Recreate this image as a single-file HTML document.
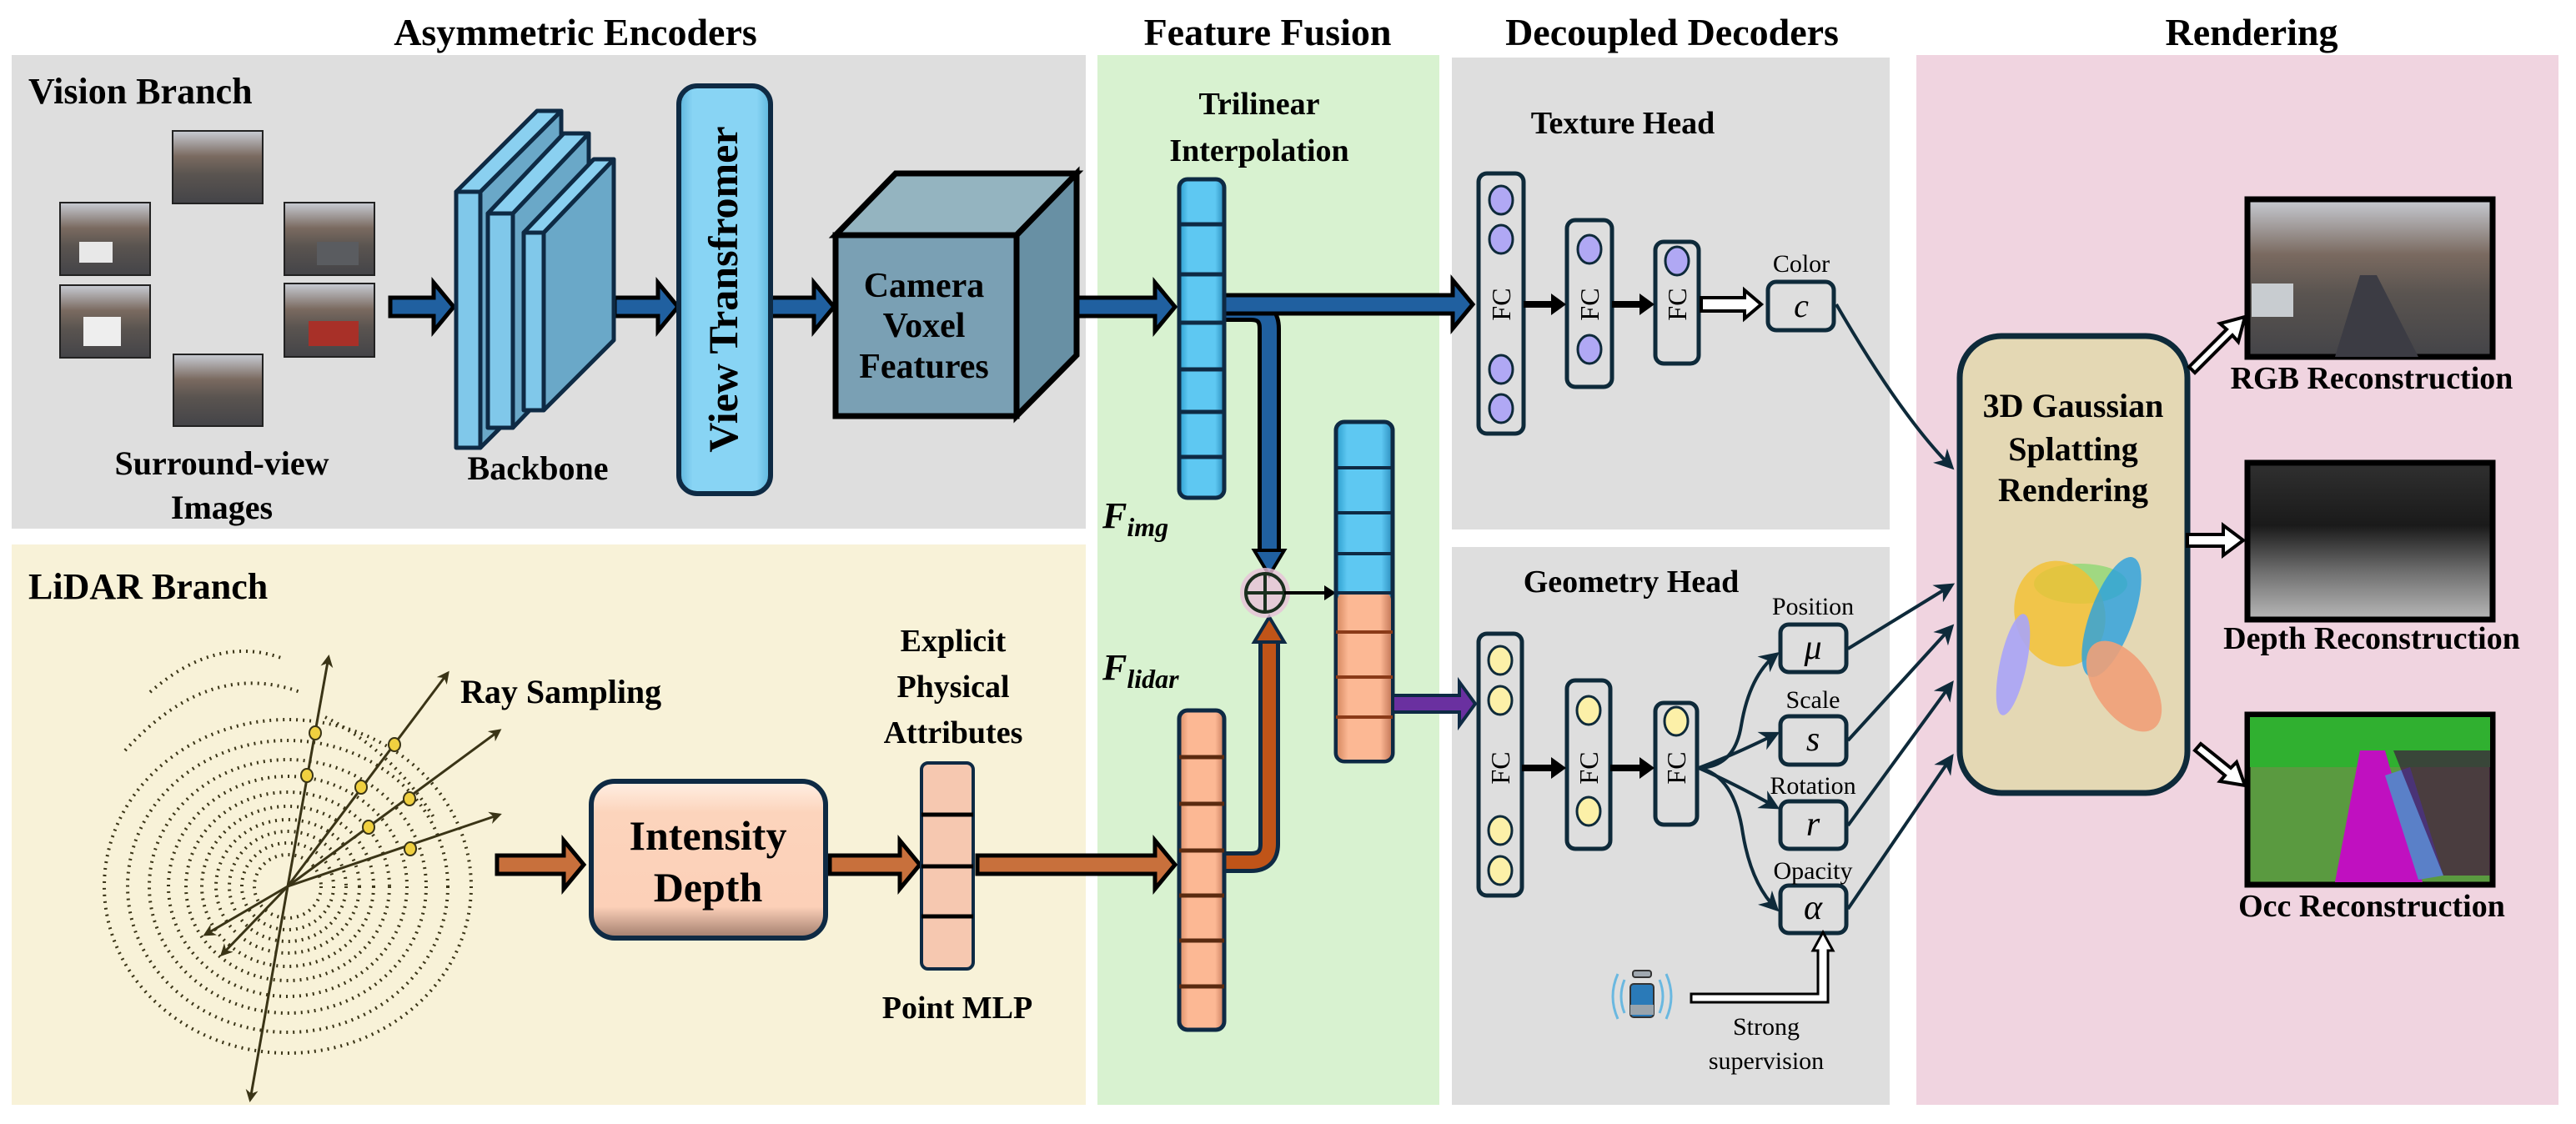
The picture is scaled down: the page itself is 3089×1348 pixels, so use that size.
<!DOCTYPE html>
<html><head><meta charset="utf-8"><style>
html,body{margin:0;padding:0;background:#fff}
svg{display:block;font-family:"Liberation Serif","DejaVu Serif","Times New Roman",serif}
svg text{font-family:"Liberation Serif","DejaVu Serif","Times New Roman",serif}
.t{font-weight:bold;font-size:46px;text-anchor:middle}
.b{font-weight:bold}
</style></head><body>
<svg width="3089" height="1348" viewBox="0 0 3089 1348" xmlns="http://www.w3.org/2000/svg" font-family="Liberation Serif, DejaVu Serif, serif">
<defs>
<linearGradient id="gb" x1="0" x2="1"><stop offset="0" stop-color="#2a9ccc"/><stop offset="0.2" stop-color="#5ec8f2"/><stop offset="0.8" stop-color="#5ec8f2"/><stop offset="1" stop-color="#2a8cbc"/></linearGradient>
<linearGradient id="go" x1="0" x2="1"><stop offset="0" stop-color="#d88c64"/><stop offset="0.2" stop-color="#fcb894"/><stop offset="0.8" stop-color="#fcb894"/><stop offset="1" stop-color="#c87c5c"/></linearGradient>
<linearGradient id="gvt" x1="0" x2="1"><stop offset="0" stop-color="#5cb4dc"/><stop offset="0.15" stop-color="#88d4f4"/><stop offset="0.85" stop-color="#88d4f4"/><stop offset="1" stop-color="#5cb4dc"/></linearGradient>
<linearGradient id="gid" x1="0" y1="0" x2="0" y2="1"><stop offset="0" stop-color="#fff0e4"/><stop offset="0.2" stop-color="#fcd4bc"/><stop offset="0.8" stop-color="#fcd0b8"/><stop offset="1" stop-color="#a07c6c"/></linearGradient>
<linearGradient id="street" x1="0" y1="0" x2="0" y2="1"><stop offset="0" stop-color="#c8ccd4"/><stop offset="0.35" stop-color="#7a6a60"/><stop offset="0.6" stop-color="#5a5450"/><stop offset="1" stop-color="#444448"/></linearGradient>
<linearGradient id="depth" x1="0" y1="0" x2="0" y2="1"><stop offset="0" stop-color="#303030"/><stop offset="0.4" stop-color="#1a1a1a"/><stop offset="0.7" stop-color="#707070"/><stop offset="1" stop-color="#b8b8b8"/></linearGradient>
<marker id="ah" viewBox="0 0 10 10" refX="8" refY="5" markerWidth="6" markerHeight="6" orient="auto"><path d="M0,0 L10,5 L0,10 L3,5z" fill="#0e2a3a"/></marker>
<marker id="ahs" viewBox="0 0 10 10" refX="8" refY="5" markerWidth="5" markerHeight="5" orient="auto"><path d="M0,0 L10,5 L0,10 L3,5z" fill="#3a3416"/></marker>
</defs>

<rect x="14" y="66" width="1288" height="568" fill="#dedede"/>
<rect x="14" y="653" width="1288" height="672" fill="#f8f2d8"/>
<rect x="1316" y="66" width="410" height="1259" fill="#d8f2d0"/>
<rect x="1741" y="69" width="525" height="566" fill="#dedede"/>
<rect x="1741" y="656" width="525" height="669" fill="#dedede"/>
<rect x="2298" y="66" width="770" height="1259" fill="#f0d4e0"/>

<text class="t" x="690" y="54">Asymmetric Encoders</text>
<text class="t" x="1520" y="54">Feature Fusion</text>
<text class="t" x="2005" y="54">Decoupled Decoders</text>
<text class="t" x="2700" y="54">Rendering</text>
<text class="b" x="34" y="124" font-size="44">Vision Branch</text>
<text class="b" x="34" y="718" font-size="44">LiDAR Branch</text>

<g stroke="#222" stroke-width="2">
<rect x="207" y="157" width="108" height="87" fill="url(#street)"/>
<rect x="72" y="243" width="108" height="87" fill="url(#street)"/>
<rect x="341" y="243" width="108" height="87" fill="url(#street)"/>
<rect x="72" y="342" width="108" height="87" fill="url(#street)"/>
<rect x="341" y="340" width="108" height="88" fill="url(#street)"/>
<rect x="208" y="425" width="107" height="86" fill="url(#street)"/>
</g>
<rect x="95" y="290" width="40" height="25" fill="#e8e8e8"/>
<rect x="380" y="290" width="50" height="28" fill="#5a5c60"/>
<rect x="100" y="380" width="45" height="35" fill="#eee"/>
<rect x="370" y="385" width="60" height="30" fill="#a83028"/>
<text class="b" x="266" y="569" font-size="40" text-anchor="middle">Surround-view</text>
<text class="b" x="266" y="622" font-size="40" text-anchor="middle">Images</text>

<g fill="#2060a0" stroke="#000" stroke-width="5" stroke-linejoin="miter">
<polygon points="468,357 520,357 520,339 544,368 520,397 520,379 468,379"/>
<polygon points="737,357 789,357 789,339 813,368 789,397 789,379 737,379"/>
<polygon points="924,357 976,357 976,339 1000,368 976,397 976,379 924,379"/>
<polygon points="1291,357 1385,357 1385,339 1409,368 1385,397 1385,379 1291,379"/>
</g>

<g stroke="#0e2a44" stroke-width="5" stroke-linejoin="round">
<polygon points="576,230 673,133 673,440 576,537" fill="#6aa8c8"/>
<polygon points="547,230 644,133 673,133 576,230" fill="#8ad0f0"/>
<rect x="547" y="230" width="29" height="307" fill="#80c8ea"/>
<polygon points="615,256 706,160 706,418 615,513" fill="#6aa8c8"/>
<polygon points="585,256 676,160 706,160 615,256" fill="#8ad0f0"/>
<rect x="585" y="256" width="30" height="257" fill="#80c8ea"/>
<polygon points="652,279 736,191 736,408 652,492" fill="#6aa8c8"/>
<polygon points="628,279 712,191 736,191 652,279" fill="#8ad0f0"/>
<rect x="628" y="279" width="24" height="213" fill="#80c8ea"/>
</g>
<text class="b" x="645" y="575" font-size="40" text-anchor="middle">Backbone</text>

<rect x="814" y="103" width="110" height="489" rx="22" fill="url(#gvt)" stroke="#0e2a44" stroke-width="6"/>
<text class="b" transform="translate(884,347) rotate(-90)" font-size="50" text-anchor="middle">View Transfromer</text>

<g stroke="#000" stroke-width="7" stroke-linejoin="miter">
<polygon points="1002,282 1074,208 1291,208 1219,282" fill="#94b4c0"/>
<polygon points="1219,282 1291,208 1291,426 1219,499" fill="#6890a4"/>
<rect x="1002" y="282" width="217" height="217" fill="#7aa0b4"/>
</g>
<text class="b" x="1108" y="356" font-size="42" text-anchor="middle">Camera</text>
<text class="b" x="1108" y="404" font-size="42" text-anchor="middle">Voxel</text>
<text class="b" x="1108" y="453" font-size="42" text-anchor="middle">Features</text>

<text class="b" x="1510" y="137" font-size="38" text-anchor="middle">Trilinear</text>
<text class="b" x="1510" y="193" font-size="38" text-anchor="middle">Interpolation</text>

<path d="M1468,372 L1500,372 Q1522,372 1522,394 L1522,668" fill="none" stroke="#000" stroke-width="28"/>
<path d="M1468,372 L1500,372 Q1522,372 1522,394 L1522,668" fill="none" stroke="#2060a0" stroke-width="18"/>
<polygon points="1504,660 1540,660 1522,690" fill="#2060a0" stroke="#000" stroke-width="4"/>
<polygon points="1468,354 1742,354 1742,336 1766,365 1742,394 1742,376 1468,376" fill="#2060a0" stroke="#000" stroke-width="5"/>

<rect x="1414" y="215" width="54" height="382" rx="10" fill="url(#gb)" stroke="#0e2a44" stroke-width="5"/>
<g stroke="#0e2a44" stroke-width="5"><line x1="1414" y1="269" x2="1468" y2="269"/><line x1="1414" y1="329" x2="1468" y2="329"/><line x1="1414" y1="387" x2="1468" y2="387"/><line x1="1414" y1="443" x2="1468" y2="443"/><line x1="1414" y1="494" x2="1468" y2="494"/><line x1="1414" y1="548" x2="1468" y2="548"/></g>
<text x="1322" y="633" font-size="44" font-weight="bold" font-style="italic">F<tspan font-size="32" dy="10">img</tspan></text>
<text x="1322" y="815" font-size="44" font-weight="bold" font-style="italic">F<tspan font-size="32" dy="10">lidar</tspan></text>

<path d="M1468,1034 L1500,1034 Q1522,1034 1522,1012 L1522,766" fill="none" stroke="#0e2a44" stroke-width="26"/>
<path d="M1468,1034 L1500,1034 Q1522,1034 1522,1012 L1522,766" fill="none" stroke="#c05418" stroke-width="16"/>
<polygon points="1504,770 1540,770 1522,740" fill="#c05418" stroke="#0e2a44" stroke-width="4"/>

<circle cx="1517" cy="711" r="30" fill="#e8c0d8" opacity="0.8"/>
<circle cx="1517" cy="711" r="23" fill="none" stroke="#1a2e1e" stroke-width="4"/>
<line x1="1494" y1="711" x2="1540" y2="711" stroke="#1a2e1e" stroke-width="4"/>
<line x1="1517" y1="688" x2="1517" y2="734" stroke="#1a2e1e" stroke-width="4"/>
<line x1="1540" y1="711" x2="1596" y2="711" stroke="#000" stroke-width="4"/>
<polygon points="1588,702 1602,711 1588,720" fill="#000"/>

<rect x="1602" y="506" width="68" height="407" rx="10" fill="url(#gb)" stroke="#0e2a44" stroke-width="5"/>
<rect x="1604" y="711" width="64" height="200" rx="8" fill="url(#go)"/>
<g stroke="#0e2a44" stroke-width="4"><line x1="1602" y1="561" x2="1670" y2="561"/><line x1="1602" y1="615" x2="1670" y2="615"/><line x1="1602" y1="664" x2="1670" y2="664"/><line x1="1602" y1="711" x2="1670" y2="711"/></g>
<g stroke="#8a3a18" stroke-width="4"><line x1="1602" y1="758" x2="1670" y2="758"/><line x1="1602" y1="812" x2="1670" y2="812"/><line x1="1602" y1="860" x2="1670" y2="860"/></g>
<polygon points="1670,834 1750,834 1750,818 1769,844 1750,870 1750,854 1670,854" fill="#6a30a0" stroke="#0e2a44" stroke-width="4"/>

<rect x="1414" y="852" width="54" height="383" rx="10" fill="url(#go)" stroke="#0e2a44" stroke-width="5"/>
<g stroke="#5a2a10" stroke-width="5"><line x1="1414" y1="908" x2="1468" y2="908"/><line x1="1414" y1="964" x2="1468" y2="964"/><line x1="1414" y1="1020" x2="1468" y2="1020"/><line x1="1414" y1="1074" x2="1468" y2="1074"/><line x1="1414" y1="1128" x2="1468" y2="1128"/><line x1="1414" y1="1183" x2="1468" y2="1183"/></g>

<g fill="none" stroke="#3a3416" stroke-width="4" stroke-dasharray="2 6">
<ellipse cx="345" cy="1063" rx="40" ry="38"/>
<ellipse cx="345" cy="1063" rx="55" ry="52"/>
<ellipse cx="345" cy="1063" rx="70" ry="66"/>
<ellipse cx="345" cy="1063" rx="86" ry="80"/>
<ellipse cx="345" cy="1063" rx="103" ry="96"/>
<ellipse cx="345" cy="1063" rx="122" ry="113"/>
<ellipse cx="345" cy="1063" rx="143" ry="132"/>
<ellipse cx="345" cy="1063" rx="166" ry="152"/>
<ellipse cx="345" cy="1063" rx="192" ry="175"/>
<ellipse cx="345" cy="1063" rx="220" ry="200"/>
<path d="M150,900 Q250,790 360,830 M180,830 Q260,760 340,790 M390,860 Q470,900 520,980"/>
</g>
<g stroke="#3a3416" stroke-width="3" marker-end="url(#ahs)">
<line x1="345" y1="1063" x2="394" y2="788"/>
<line x1="345" y1="1063" x2="537" y2="807"/>
<line x1="345" y1="1063" x2="599" y2="876"/>
<line x1="345" y1="1063" x2="599" y2="977"/>
<line x1="345" y1="1063" x2="300" y2="1319"/>
<line x1="345" y1="1063" x2="246" y2="1121"/>
<line x1="345" y1="1063" x2="266" y2="1145"/>
</g>
<g fill="#f0d040" stroke="#3a3416" stroke-width="2">
<ellipse cx="378" cy="879" rx="7" ry="8"/><ellipse cx="368" cy="930" rx="7" ry="8"/>
<ellipse cx="473" cy="893" rx="7" ry="8"/><ellipse cx="433" cy="944" rx="7" ry="8"/>
<ellipse cx="491" cy="958" rx="7" ry="8"/><ellipse cx="442" cy="992" rx="7" ry="8"/>
<ellipse cx="492" cy="1018" rx="7" ry="8"/>
</g>
<text class="b" x="552" y="843" font-size="40">Ray Sampling</text>

<g fill="#c8703c" stroke="#000" stroke-width="5">
<polygon points="596,1026 676,1026 676,1008 700,1037 676,1066 676,1048 596,1048"/>
<polygon points="995,1026 1079,1026 1079,1008 1103,1037 1079,1066 1079,1048 995,1048"/>
<polygon points="1172,1026 1385,1026 1385,1008 1409,1037 1385,1066 1385,1048 1172,1048"/>
</g>
<rect x="709" y="937" width="281" height="188" rx="28" fill="url(#gid)" stroke="#0e2a44" stroke-width="6"/>
<text class="b" x="849" y="1019" font-size="50" text-anchor="middle">Intensity</text>
<text class="b" x="849" y="1081" font-size="50" text-anchor="middle">Depth</text>
<rect x="1105" y="915" width="62" height="247" rx="8" fill="#f6c8b0" stroke="#0e2a44" stroke-width="4"/>
<g stroke="#000" stroke-width="5"><line x1="1105" y1="977" x2="1167" y2="977"/><line x1="1105" y1="1039" x2="1167" y2="1039"/><line x1="1105" y1="1099" x2="1167" y2="1099"/></g>
<text class="b" x="1143" y="781" font-size="38" text-anchor="middle">Explicit</text>
<text class="b" x="1143" y="836" font-size="38" text-anchor="middle">Physical</text>
<text class="b" x="1143" y="891" font-size="38" text-anchor="middle">Attributes</text>
<text class="b" x="1148" y="1221" font-size="38" text-anchor="middle">Point MLP</text>

<text class="b" x="1946" y="160" font-size="38" text-anchor="middle">Texture Head</text>
<g fill="none" stroke="#0e2a3a" stroke-width="5">
<rect x="1773" y="208" width="54" height="312" rx="10"/>
<rect x="1879" y="264" width="54" height="200" rx="10"/>
<rect x="1985" y="290" width="52" height="146" rx="10"/>
<rect x="2120" y="338" width="79" height="58" rx="10"/>
</g>
<g fill="#b0a8f4" stroke="#0e2a3a" stroke-width="3">
<ellipse cx="1800" cy="240" rx="14" ry="17"/><ellipse cx="1800" cy="287" rx="14" ry="17"/>
<ellipse cx="1800" cy="443" rx="14" ry="17"/><ellipse cx="1800" cy="490" rx="14" ry="17"/>
<ellipse cx="1906" cy="299" rx="14" ry="17"/><ellipse cx="1906" cy="419" rx="14" ry="17"/>
<ellipse cx="2011" cy="313" rx="14" ry="17"/>
</g>
<g font-size="32" text-anchor="middle">
<text transform="translate(1811,365) rotate(-90)">FC</text>
<text transform="translate(1917,365) rotate(-90)">FC</text>
<text transform="translate(2022,365) rotate(-90)">FC</text>
</g>
<g fill="#000"><rect x="1827" y="361" width="36" height="8"/><polygon points="1860,352 1878,365 1860,378"/>
<rect x="1933" y="361" width="36" height="8"/><polygon points="1966,352 1984,365 1966,378"/></g>
<polygon points="2040,357 2092,357 2092,348 2112,365 2092,382 2092,373 2040,373" fill="#fff" stroke="#000" stroke-width="4"/>
<text x="2160" y="326" font-size="30" text-anchor="middle">Color</text>
<text x="2160" y="380" font-size="40" font-style="italic" text-anchor="middle">c</text>
<path d="M2202,365 Q2280,500 2340,560" fill="none" stroke="#0e2a3a" stroke-width="4" marker-end="url(#ah)"/>

<text class="b" x="1956" y="710" font-size="38" text-anchor="middle">Geometry Head</text>
<g fill="none" stroke="#0e2a3a" stroke-width="5">
<rect x="1773" y="760" width="52" height="314" rx="10"/>
<rect x="1879" y="816" width="52" height="202" rx="10"/>
<rect x="1985" y="843" width="50" height="146" rx="10"/>
<rect x="2135" y="749" width="79" height="57" rx="10"/>
<rect x="2135" y="859" width="79" height="58" rx="10"/>
<rect x="2135" y="961" width="79" height="57" rx="10"/>
<rect x="2135" y="1062" width="79" height="57" rx="10"/>
</g>
<g fill="#fcf0a8" stroke="#0e2a3a" stroke-width="3">
<ellipse cx="1799" cy="792" rx="14" ry="17"/><ellipse cx="1799" cy="840" rx="14" ry="17"/>
<ellipse cx="1799" cy="996" rx="14" ry="17"/><ellipse cx="1799" cy="1044" rx="14" ry="17"/>
<ellipse cx="1905" cy="852" rx="14" ry="17"/><ellipse cx="1905" cy="973" rx="14" ry="17"/>
<ellipse cx="2010" cy="865" rx="14" ry="17"/>
</g>
<g font-size="32" text-anchor="middle">
<text transform="translate(1810,921) rotate(-90)">FC</text>
<text transform="translate(1916,921) rotate(-90)">FC</text>
<text transform="translate(2021,921) rotate(-90)">FC</text>
</g>
<g fill="#000"><rect x="1825" y="917" width="38" height="8"/><polygon points="1860,908 1878,921 1860,934"/>
<rect x="1931" y="917" width="38" height="8"/><polygon points="1966,908 1984,921 1966,934"/></g>
<g fill="none" stroke="#0e2a3a" stroke-width="4" marker-end="url(#ah)">
<path d="M2037,921 Q2080,920 2088,870 Q2098,810 2130,785"/>
<path d="M2037,921 Q2080,905 2130,880"/>
<path d="M2037,921 Q2080,940 2130,968"/>
<path d="M2037,921 Q2080,930 2090,1000 Q2100,1060 2130,1090"/>
<line x1="2216" y1="778" x2="2340" y2="702"/>
<line x1="2216" y1="888" x2="2340" y2="752"/>
<line x1="2216" y1="990" x2="2340" y2="820"/>
<line x1="2216" y1="1090" x2="2340" y2="908"/>
</g>
<g font-size="30" text-anchor="middle">
<text x="2174" y="737">Position</text><text x="2174" y="849">Scale</text>
<text x="2174" y="952">Rotation</text><text x="2174" y="1054">Opacity</text>
</g>
<g font-size="42" font-style="italic" text-anchor="middle">
<text x="2174" y="790">μ</text><text x="2174" y="900">s</text>
<text x="2174" y="1002">r</text><text x="2174" y="1102">α</text>
</g>
<g fill="none" stroke="#6ab8e0" stroke-width="3"><path d="M1948,1175 Q1940,1195 1948,1215"/><path d="M1940,1168 Q1928,1195 1940,1222"/><path d="M1990,1175 Q1998,1195 1990,1215"/><path d="M1998,1168 Q2010,1195 1998,1222"/></g>
<rect x="1958" y="1164" width="22" height="8" rx="3" fill="#a0a8b0" stroke="#333" stroke-width="2"/>
<rect x="1955" y="1180" width="28" height="40" rx="4" fill="#2a7ab8" stroke="#333" stroke-width="2"/>
<rect x="1955" y="1205" width="28" height="12" fill="#9aa4ac"/>
<polygon points="2028,1192 2180,1192 2180,1140 2174,1140 2186,1118 2198,1140 2192,1140 2192,1202 2028,1202" fill="#fff" stroke="#000" stroke-width="3"/>
<text x="2118" y="1241" font-size="30" text-anchor="middle">Strong</text>
<text x="2118" y="1282" font-size="30" text-anchor="middle">supervision</text>

<rect x="2350" y="403" width="273" height="548" rx="50" fill="#e4d8b4" stroke="#0e2a3a" stroke-width="7"/>
<text class="b" x="2486" y="500" font-size="40" text-anchor="middle">3D Gaussian</text>
<text class="b" x="2486" y="552" font-size="40" text-anchor="middle">Splatting</text>
<text class="b" x="2486" y="601" font-size="40" text-anchor="middle">Rendering</text>
<ellipse cx="2495" cy="700" rx="56" ry="24" fill="#8ad870" opacity="0.75"/>
<ellipse cx="2470" cy="736" rx="54" ry="64" fill="#f4c030" opacity="0.8" transform="rotate(-15 2470 736)"/>
<ellipse cx="2532" cy="740" rx="26" ry="76" fill="#28a0e0" opacity="0.8" transform="rotate(20 2532 740)"/>
<ellipse cx="2414" cy="797" rx="16" ry="62" fill="#a8a4f8" opacity="0.9" transform="rotate(12 2414 797)"/>
<ellipse cx="2547" cy="823" rx="34" ry="62" fill="#f0a078" opacity="0.9" transform="rotate(-35 2547 823)"/>

<g fill="#fff" stroke="#000" stroke-width="4">
<polygon points="2625,440 2670,395 2662,388 2692,380 2684,410 2677,402 2632,447"/>
<polygon points="2623,641 2666,641 2666,630 2690,648 2666,666 2666,655 2623,655"/>
<polygon points="2632,900 2668,930 2662,937 2692,942 2682,914 2675,921 2639,892"/>
</g>
<rect x="2695" y="239" width="294" height="189" fill="url(#street)" stroke="#000" stroke-width="7"/>
<polygon points="2800,428 2830,330 2850,330 2900,428" fill="#3c3c44"/>
<rect x="2700" y="340" width="50" height="40" fill="#c8ccd0"/>
<rect x="2695" y="555" width="294" height="188" fill="url(#depth)" stroke="#000" stroke-width="7"/>
<rect x="2695" y="857" width="294" height="204" fill="#5a9a40" stroke="#000" stroke-width="7"/>
<rect x="2698" y="860" width="288" height="60" fill="#30b030"/>
<polygon points="2800,1058 2830,900 2860,900 2905,1058" fill="#c010c0"/>
<polygon points="2860,930 2890,920 2930,1050 2900,1055" fill="#5a80c8"/>
<polygon points="2870,900 2986,900 2986,1050 2930,1050" fill="#400040" opacity="0.6"/>
<text class="b" x="2844" y="466" font-size="38" text-anchor="middle">RGB Reconstruction</text>
<text class="b" x="2844" y="778" font-size="38" text-anchor="middle">Depth Reconstruction</text>
<text class="b" x="2844" y="1099" font-size="38" text-anchor="middle">Occ Reconstruction</text>
</svg>
</body></html>
